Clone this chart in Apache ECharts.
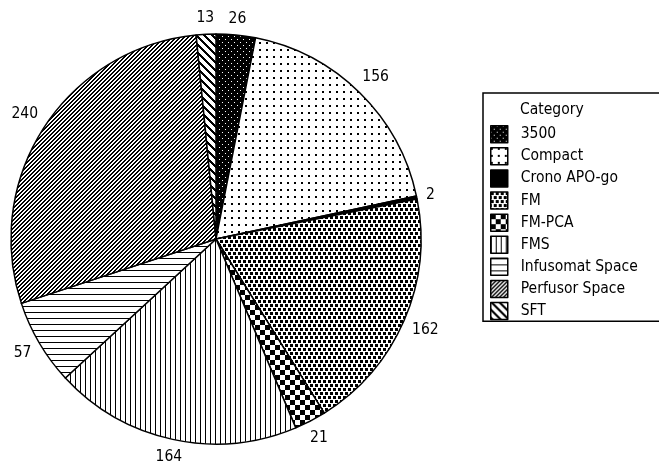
<!DOCTYPE html>
<html>
<head>
<meta charset="utf-8">
<script src="https://cdn.jsdelivr.net/npm/echarts@6/dist/echarts.min.js"></script>
<style>
html,body{margin:0;padding:0;background:#fff;}
#c{width:659px;height:462px;}
</style>
</head>
<body>
<div id="c"></div>
<script>
const categories = ['3500','Compact','Crono APO-go','FM','FM-PCA','FMS','Infusomat Space','Perfusor Space','SFT'];
const values = [26,156,2,162,21,164,57,240,13];
const legendTitle = 'Category';

const CX = 216, CY = 239, R = 205;
const total = values.reduce((a,b)=>a+b,0);

function pat(w,h,bg,fg,draw){
  const c=document.createElement('canvas'); c.width=w; c.height=h;
  const ctx=c.getContext('2d');
  ctx.fillStyle=bg; ctx.fillRect(0,0,w,h);
  ctx.fillStyle=fg; draw(ctx,w,h);
  return {image:c, repeat:'repeat'};
}
const patterns = [
  // 3500: black with white dots
  pat(6,6,'#000','#fff',(g)=>{g.fillRect(0,0,1,1);g.fillRect(3,3,1,1);}),
  // Compact: white with black dots
  pat(7,7,'#fff','#000',(g)=>{g.fillRect(0,0,2,2);}),
  // Crono: solid black
  '#000',
  // FM: dense staggered squares
  pat(10,8,'#fff','#000',(g)=>{g.fillRect(0,0,3,3);g.fillRect(5,0,3,3);g.fillRect(3,4,3,3);g.fillRect(8,4,2,3);g.fillRect(0,4,1,3);}),
  // FM-PCA: checkerboard
  pat(10,10,'#fff','#000',(g)=>{g.fillRect(0,0,5,5);g.fillRect(5,5,5,5);}),
  // FMS: vertical lines
  pat(5,5,'#fff','#000',(g)=>{g.fillRect(0,0,1,5);}),
  // Infusomat: horizontal lines
  pat(6,6,'#fff','#000',(g)=>{g.fillRect(0,0,6,1);}),
  // Perfusor: dense "/" stripes
  pat(4,4,'#fff','#000',(g)=>{for(let y=0;y<4;y++)for(let x=0;x<4;x++){if((x+y)%4<2)g.fillRect(x,y,1,1);}}),
  // SFT: wide "\" stripes
  pat(8,8,'#fff','#000',(g)=>{for(let y=0;y<8;y++)for(let x=0;x<8;x++){if(((x-y)%8+8)%8<3)g.fillRect(x,y,1,1);}})
];

const chart = echarts.init(document.getElementById('c'), null, {renderer:'canvas'});
const FONT = 'DejaVu Sans Condensed';
const FS = 15.5;
chart.setOption({
  animation:false,
  backgroundColor:'#fff',
  title:{
    text:legendTitle, left:520, top:102, padding:0,
    textStyle:{fontSize:FS, fontWeight:'normal', color:'#000', fontFamily:FONT}
  },
  legend:{
    orient:'vertical', left:483, top:93,
    padding:[32,60,1,7],
    itemWidth:17, itemHeight:17, itemGap:3.6,
    borderColor:'#000', borderWidth:1.5, backgroundColor:'#fff',
    icon:'rect',
    itemStyle:{borderColor:'#000', borderWidth:1.5},
    textStyle:{fontSize:FS, color:'#000', fontFamily:FONT, padding:[0,0,0,8]},
    data:categories
  },
  series:[{
    type:'pie',
    center:[CX,CY], radius:R,
    startAngle:90, clockwise:true,
    avoidLabelOverlap:false,
    itemStyle:{borderColor:'#000', borderWidth:1.5},
    label:{show:true, position:'outside', formatter:'{c}', fontSize:FS, color:'#000', fontFamily:FONT},
    labelLine:{show:false},
    emphasis:{disabled:true},
    labelLayout:function(p){
      const i=p.dataIndex;
      let cum=0; for(let k=0;k<i;k++) cum+=values[k];
      const th=(cum+values[i]/2)/total*2*Math.PI;
      const s=Math.sin(th), c=Math.cos(th);
      const w=p.labelRect.width;
      const ext=w/2*Math.abs(s)+7.5*Math.abs(c);
      const d=R+8+ext;
      return {x:CX+d*s, y:CY-d*c, align:'center', verticalAlign:'middle'};
    },
    data:categories.map((n,i)=>({name:n, value:values[i], itemStyle:{color:patterns[i]}}))
  }]
});
</script>
</body>
</html>
